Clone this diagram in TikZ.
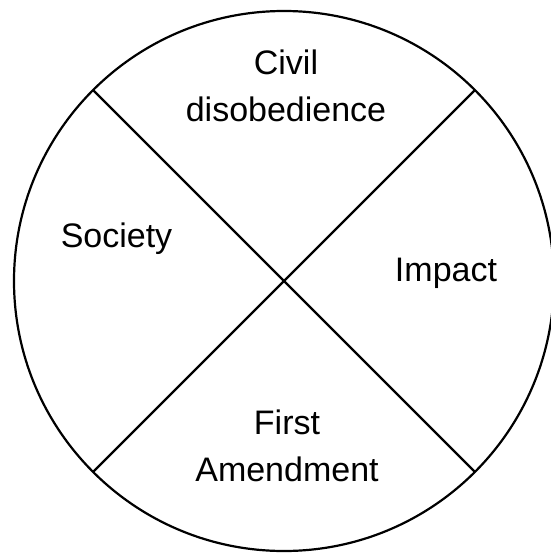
\documentclass[tikz,border=0pt]{standalone}
\usepackage{fontspec}
\setmainfont{Liberation Sans}
\usepackage{tikz}

\begin{document}
\begin{tikzpicture}[x=1pt,y=-1pt,
    label/.style={font=\fontsize{34}{47}\selectfont,align=center,inner sep=0pt},
    divider/.style={line width=2.2pt}]
    \useasboundingbox (0,0) rectangle (551,554);

    \node[circle,draw,line width=2.2pt,minimum size=540pt,inner sep=0pt,outer sep=0pt] (disc) at (284,281) {};

    \draw[divider] (disc.135) -- (disc.-45);
    \draw[divider] (disc.45) -- (disc.-135);

    \node[label,anchor=base] (civil) at (286,121.7) {Civil\\disobedience};
    \node[label,anchor=base] (society) at (116.5,247) {Society};
    \node[label,anchor=base] (impact) at (446,281.7) {Impact};
    \node[label,anchor=base] (first) at (287,481.7) {First\\Amendment};
\end{tikzpicture}
\end{document}
